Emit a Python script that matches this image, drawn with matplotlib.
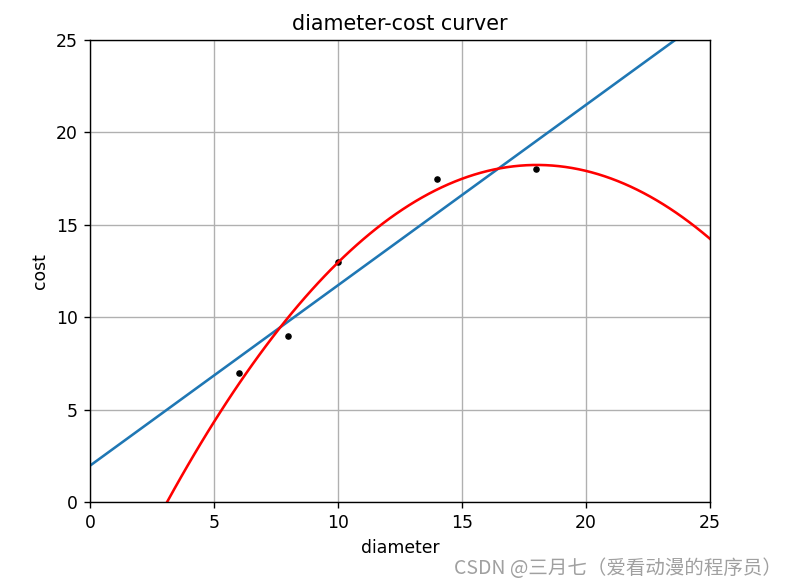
import numpy as np
import matplotlib
matplotlib.use("Agg")
import matplotlib.pyplot as plt

# pizza diameter vs cost
diameter = [6, 8, 10, 14, 18]
cost = [7, 9, 13, 17.5, 18]

# the reference is a default-style figure enlarged about 1.24x
s = 1.24
plt.rcParams.update({
    "font.size": 10 * s,
    "lines.linewidth": 1.5 * s,
    "lines.markersize": 6 * s,
    "axes.linewidth": 0.8 * s,
    "grid.linewidth": 0.8 * s,
    "xtick.major.size": 3.5 * s,
    "ytick.major.size": 3.5 * s,
    "xtick.major.width": 0.8 * s,
    "ytick.major.width": 0.8 * s,
    "xtick.major.pad": 3.5 * s,
    "ytick.major.pad": 3.5 * s,
    "axes.titlepad": 6 * s,
    "axes.labelpad": 4 * s,
})

x = np.array(diameter, dtype=float)
y = np.array(cost, dtype=float)
lin = np.polyfit(x, y, 1)
quad = np.polyfit(x, y, 2)
xx = np.linspace(0, 26, 100)

fig = plt.figure(figsize=(7.97, 5.85), dpi=100)
ax = fig.add_axes([90 / 797, 1 - 502 / 585, 620 / 797, 462 / 585])
ax.plot(x, y, "k.")
ax.plot(xx, np.polyval(lin, xx))
ax.plot(xx, np.polyval(quad, xx), "r-")
ax.set_xlim(0, 25)
ax.set_ylim(0, 25)
ax.set_title("diameter-cost curver")
ax.set_xlabel("diameter")
ax.set_ylabel("cost")
ax.grid(True)

fig.text(782 / 797, 6 / 585, "CSDN @三月七（爱看动漫的程序员）", ha="right", va="bottom",
         fontsize=14, color="#a0a0a0", family=["Noto Sans CJK SC", "DejaVu Sans"])

fig.savefig("out.png", dpi=100)
